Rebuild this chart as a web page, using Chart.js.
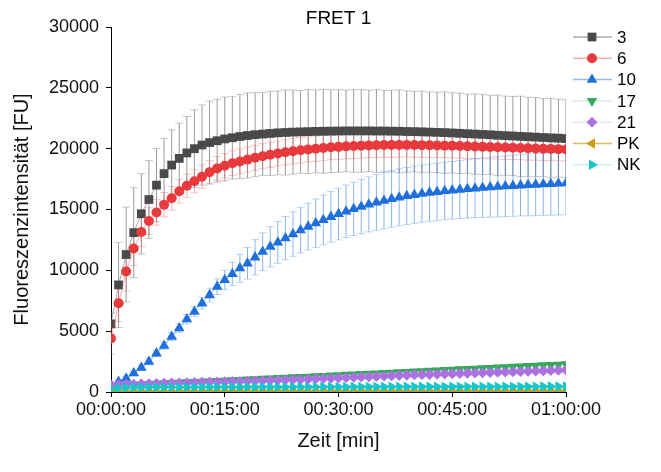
<!DOCTYPE html>
<html>
<head>
<meta charset="utf-8">
<script src="https://cdn.jsdelivr.net/npm/chart.js@4.4.1/dist/chart.umd.min.js"></script>
<style>
  html, body { margin: 0; padding: 0; background: #ffffff; }
  #wrap { width: 661px; height: 472px; position: relative; }
</style>
</head>
<body>
<div id="wrap"><canvas id="chart" width="661" height="472"></canvas></div>
<script>
// Measurement times (minutes)
const minutes = [0,1,2,3,4,5,6,7,8,9,10,11,12,13,14,15,16,17,18,19,20,21,22,23,24,25,26,27,28,29,30,
  31,32,33,34,35,36,37,38,39,40,41,42,43,44,45,46,47,48,49,50,51,52,53,54,55,56,57,58,59,60];

// Mean fluorescence [FU] per sample
const s3 = [5600,8800,11300,13100,14650,15820,17000,17950,18650,19200,19650,20000,20300,20500,20650,20800,
  20900,21000,21080,21150,21200,21250,21300,21330,21360,21380,21400,21420,21430,21440,21450,21460,21460,
  21460,21460,21450,21450,21440,21430,21410,21400,21380,21360,21340,21320,21290,21260,21230,21200,21170,
  21140,21100,21070,21040,21010,20980,20950,20920,20890,20860,20830];
const s6 = [4400,7300,9900,11800,13150,14050,14760,15400,15920,16500,16950,17320,17700,18070,18380,18600,
  18800,18950,19100,19250,19380,19500,19600,19700,19790,19870,19940,20000,20060,20110,20150,20190,20220,
  20250,20270,20290,20300,20310,20310,20310,20300,20290,20280,20270,20250,20240,20220,20200,20180,20160,
  20140,20120,20100,20080,20060,20040,20020,20000,19980,19960,19940];
const s10 = [450,850,1120,1540,2000,2490,3180,3810,4550,5240,5980,6600,7290,7970,8660,9210,9700,10170,
  10580,11070,11530,11940,12300,12650,12980,13300,13600,13880,14150,14400,14630,14850,15050,15240,15420,
  15580,15730,15870,16000,16110,16210,16300,16380,16450,16520,16580,16640,16690,16740,16790,16830,16870,
  16910,16950,16990,17020,17050,17080,17110,17140,17170];
const s17 = [500,520,555,580,615,640,672,700,735,760,792,815,845,870,905,930,962,990,1024,1050,1082,1110,
  1142,1170,1203,1230,1262,1290,1322,1350,1383,1410,1442,1470,1503,1530,1561,1590,1622,1650,1682,1710,
  1742,1770,1801,1830,1861,1890,1921,1950,1982,2010,2041,2070,2102,2130,2161,2190,2221,2250,2280];
const s21 = [600,620,640,655,670,690,705,720,740,755,770,790,805,820,835,850,865,880,895,910,930,950,
  970,990,1010,1030,1055,1075,1100,1125,1150,1175,1200,1225,1250,1275,1300,1325,1350,1375,1400,1420,
  1440,1460,1480,1500,1520,1540,1560,1580,1600,1620,1640,1660,1680,1700,1720,1740,1760,1780,1800];
const sPK = [60,62,64,63,65,66,65,67,68,67,69,70,69,71,72,71,72,73,72,74,75,74,75,76,75,77,78,77,78,79,
  78,80,80,79,81,82,81,82,83,82,84,84,83,85,86,85,86,87,86,88,88,87,89,90,89,90,91,90,92,92,91];
const sNK = [250,330,360,375,385,390,392,395,397,398,400,401,402,403,404,405,406,407,408,409,410,411,
  412,413,414,415,416,417,418,419,420,421,422,423,424,425,426,427,428,429,430,431,432,433,434,435,436,
  437,438,439,440,441,442,443,444,445,446,447,448,449,450];

// Standard deviations [FU]
const e3 = [900,3500,3900,3700,3300,3200,3000,2900,2900,2900,3000,3200,3300,3400,3400,3450,3400,3450,
  3500,3450,3400,3450,3450,3500,3450,3400,3450,3400,3450,3400,3400,3350,3400,3400,3350,3400,3350,3350,
  3400,3350,3300,3350,3300,3300,3350,3300,3300,3250,3300,3300,3250,3300,3250,3250,3300,3250,3250,3200,
  3250,3200,3200];
const e6 = [1300,1500,1600,1400,1200,1100,1050,1000,980,960,950,940,950,960,980,1000,1010,1020,1030,1020,
  1030,1040,1030,1040,1050,1040,1030,1040,1030,1020,1030,1020,1030,1020,1010,1020,1010,1020,1010,1000,
  1010,1000,1010,1000,990,1000,990,1000,990,980,990,980,990,980,970,980,970,980,970,960,970];
const e10 = [150,150,180,200,220,250,270,300,320,350,380,420,480,560,650,780,950,1150,1300,1450,1550,
  1650,1720,1780,1830,1880,1930,1990,2050,2090,2130,2160,2190,2220,2260,2290,2320,2330,2340,2340,2350,
  2350,2350,2360,2360,2370,2380,2400,2420,2440,2460,2480,2500,2510,2520,2540,2550,2560,2580,2590,2600];
const e17 = [100,100,105,105,110,110,110,115,115,115,120,120,120,125,125,125,130,130,130,130,135,135,
  135,135,140,140,140,140,145,145,145,145,150,150,150,150,155,155,155,155,160,160,160,160,165,165,165,
  165,170,170,170,170,175,175,175,175,180,180,180,180,180];
const e21 = [120,120,125,125,125,130,130,130,135,135,135,140,140,140,145,145,145,150,150,150,155,155,
  155,160,160,160,165,165,165,170,170,170,175,175,175,180,180,180,185,185,185,190,190,190,195,195,195,
  200,200,200,205,205,205,210,210,210,215,215,215,220,220];
const ePK = [30,30,30,30,30,30,30,30,30,30,30,30,30,30,30,30,30,30,30,30,30,30,30,30,30,30,30,30,30,30,
  30,30,30,30,30,30,30,30,30,30,30,30,30,30,30,30,30,30,30,30,30,30,30,30,30,30,30,30,30,30,30];
const eNK = [60,60,60,60,60,60,60,60,60,60,60,60,60,60,60,60,60,60,60,60,60,60,60,60,60,60,60,60,60,60,
  60,60,60,60,60,60,60,60,60,60,60,60,60,60,60,60,60,60,60,60,60,60,60,60,60,60,60,60,60,60,60];

const seriesNames = ['3', '6', '10', '17', '21', 'PK', 'NK'];
const yTicks = [0, 5000, 10000, 15000, 20000, 25000, 30000];
const xTicksMin = [0, 15, 30, 45, 60];

const styles = [
  { color: '#4a4a4a', line: 'rgba(90,90,90,0.5)',    err: 'rgba(70,70,70,0.55)',   cap: 'rgba(120,120,120,0.4)', shape: 'rect',     rot: 0,   r: 6.2 },
  { color: '#e8393d', line: 'rgba(240,90,95,0.5)',   err: 'rgba(235,80,85,0.45)',  cap: 'rgba(240,110,115,0.4)', shape: 'circle',   rot: 0,   r: 5.0 },
  { color: '#1f6fdc', line: 'rgba(60,130,230,0.55)', err: 'rgba(40,120,225,0.55)', cap: 'rgba(90,150,235,0.4)',  shape: 'triangle', rot: 0,   r: 6.2 },
  { color: '#35a85c', line: 'rgba(60,170,100,0.2)',  err: 'rgba(60,170,100,0.35)', cap: 'rgba(60,170,100,0.25)', shape: 'triangle', rot: 180, r: 6.0 },
  { color: '#aa72e0', line: 'rgba(170,115,225,0.2)', err: 'rgba(170,115,225,0.35)',cap: 'rgba(170,115,225,0.25)',shape: 'rectRot',  rot: 0,   r: 5.4 },
  { color: '#c99a12', line: 'rgba(205,160,30,0.7)',  err: 'rgba(205,160,30,0.35)', cap: 'rgba(205,160,30,0.25)', shape: 'triangle', rot: 270, r: 6.0 },
  { color: '#17c6c6', line: 'rgba(40,200,200,0.25)', err: 'rgba(40,200,200,0.35)', cap: 'rgba(40,200,200,0.25)', shape: 'triangle', rot: 90,  r: 6.0 }
];

const means = [s3, s6, s10, s17, s21, sPK, sNK];
const errs = [e3, e6, e10, e17, e21, ePK, eNK];

const datasets = seriesNames.map((name, k) => ({
  label: name,
  data: minutes.map((m, i) => ({ x: m * 60, y: means[k][i] })),
  errors: errs[k],
  borderColor: styles[k].line,
  borderWidth: 1,
  backgroundColor: styles[k].color,
  pointStyle: styles[k].shape,
  pointRotation: styles[k].rot,
  pointRadius: styles[k].r,
  pointBackgroundColor: styles[k].color,
  pointBorderColor: styles[k].color,
  pointBorderWidth: 0,
  tension: 0,
  order: seriesNames.length - k
}));

function hms(sec) {
  const h = Math.floor(sec / 3600), m = Math.floor((sec % 3600) / 60), s = sec % 60;
  return [h, m, s].map(v => String(v).padStart(2, '0')).join(':');
}

const FONT = "'Liberation Sans', Arial, sans-serif";

// Vertical SD bars with caps, drawn underneath the markers
const errorBars = {
  id: 'errorBars',
  beforeDatasetsDraw(chart) {
    const { ctx, chartArea, scales: { x, y } } = chart;
    ctx.save();
    ctx.beginPath();
    ctx.rect(chartArea.left, chartArea.top, chartArea.right - chartArea.left, chartArea.bottom - chartArea.top);
    ctx.clip();
    ctx.lineWidth = 1;
    chart.data.datasets.forEach((ds, k) => {
      ds.data.forEach((p, i) => {
        const e = ds.errors[i];
        const px = x.getPixelForValue(p.x);
        const top = y.getPixelForValue(p.y + e);
        const bot = y.getPixelForValue(p.y - e);
        ctx.strokeStyle = styles[k].err;
        ctx.beginPath();
        ctx.moveTo(px, top);
        ctx.lineTo(px, bot);
        ctx.stroke();
        ctx.strokeStyle = styles[k].cap;
        ctx.beginPath();
        ctx.moveTo(px - 4, top); ctx.lineTo(px + 4, top);
        ctx.moveTo(px - 4, bot); ctx.lineTo(px + 4, bot);
        ctx.stroke();
      });
    });
    ctx.restore();
  }
};

// Chart title and line+symbol legend at the right
const decorations = {
  id: 'decorations',
  afterDraw(chart) {
    const { ctx, chartArea } = chart;
    ctx.save();
    ctx.fillStyle = '#000';
    ctx.font = '19px ' + FONT;
    ctx.textAlign = 'center';
    ctx.textBaseline = 'middle';
    ctx.fillText('FRET 1', (chartArea.left + chartArea.right) / 2, 19);

    const x0 = 573, x1 = 612, xm = 592, tx = 617, y0 = 37, dy = 21.3;
    chart.data.datasets.forEach((ds, k) => {
      const yy = y0 + k * dy;
      ctx.strokeStyle = styles[k].line;
      ctx.lineWidth = 1.5;
      ctx.beginPath();
      ctx.moveTo(x0, yy); ctx.lineTo(x1, yy);
      ctx.stroke();
      ctx.fillStyle = styles[k].color;
      Chart.helpers.drawPoint(ctx, { pointStyle: styles[k].shape, rotation: styles[k].rot, radius: styles[k].r, borderWidth: 0 }, xm, yy);
      ctx.fillStyle = '#000';
      ctx.font = '17px ' + FONT;
      ctx.textAlign = 'left';
      ctx.textBaseline = 'middle';
      ctx.fillText(ds.label, tx, yy + 1);
    });
    ctx.restore();
  }
};

new Chart(document.getElementById('chart'), {
  type: 'line',
  data: { datasets },
  plugins: [errorBars, decorations],
  options: {
    responsive: false,
    animation: false,
    devicePixelRatio: 1,
    layout: { padding: { top: 27, right: 95, left: 0, bottom: 0 } },
    plugins: { legend: { display: false }, title: { display: false }, tooltip: { enabled: false } },
    scales: {
      x: {
        type: 'linear',
        min: 0,
        max: 3600,
        afterFit(scale) { scale.height = 80; },
        afterBuildTicks(scale) { scale.ticks = xTicksMin.map(m => ({ value: m * 60 })); },
        ticks: {
          callback: v => hms(v),
          font: { family: FONT, size: 18 },
          color: '#111',
          maxRotation: 0,
          padding: 2
        },
        grid: { display: true, drawOnChartArea: false, drawTicks: true, tickLength: 5, color: '#000' },
        border: { display: true, color: '#000', width: 1 },
        title: { display: true, text: 'Zeit [min]', font: { family: FONT, size: 20 }, color: '#111', padding: { top: 0, bottom: 19 } }
      },
      y: {
        min: 0,
        max: 30000,
        afterFit(scale) { scale.width = 111; },
        afterBuildTicks(scale) { scale.ticks = yTicks.map(v => ({ value: v })); },
        ticks: {
          callback: v => String(v),
          font: { family: FONT, size: 18 },
          color: '#111',
          padding: 7
        },
        grid: { display: true, drawOnChartArea: false, drawTicks: true, tickLength: 5, color: '#000' },
        border: { display: true, color: '#000', width: 1 },
        title: { display: true, text: 'Fluoreszenzintensität [FU]', font: { family: FONT, size: 20 }, color: '#111', padding: { top: 10, bottom: 0 } }
      }
    }
  }
});
</script>
</body>
</html>
